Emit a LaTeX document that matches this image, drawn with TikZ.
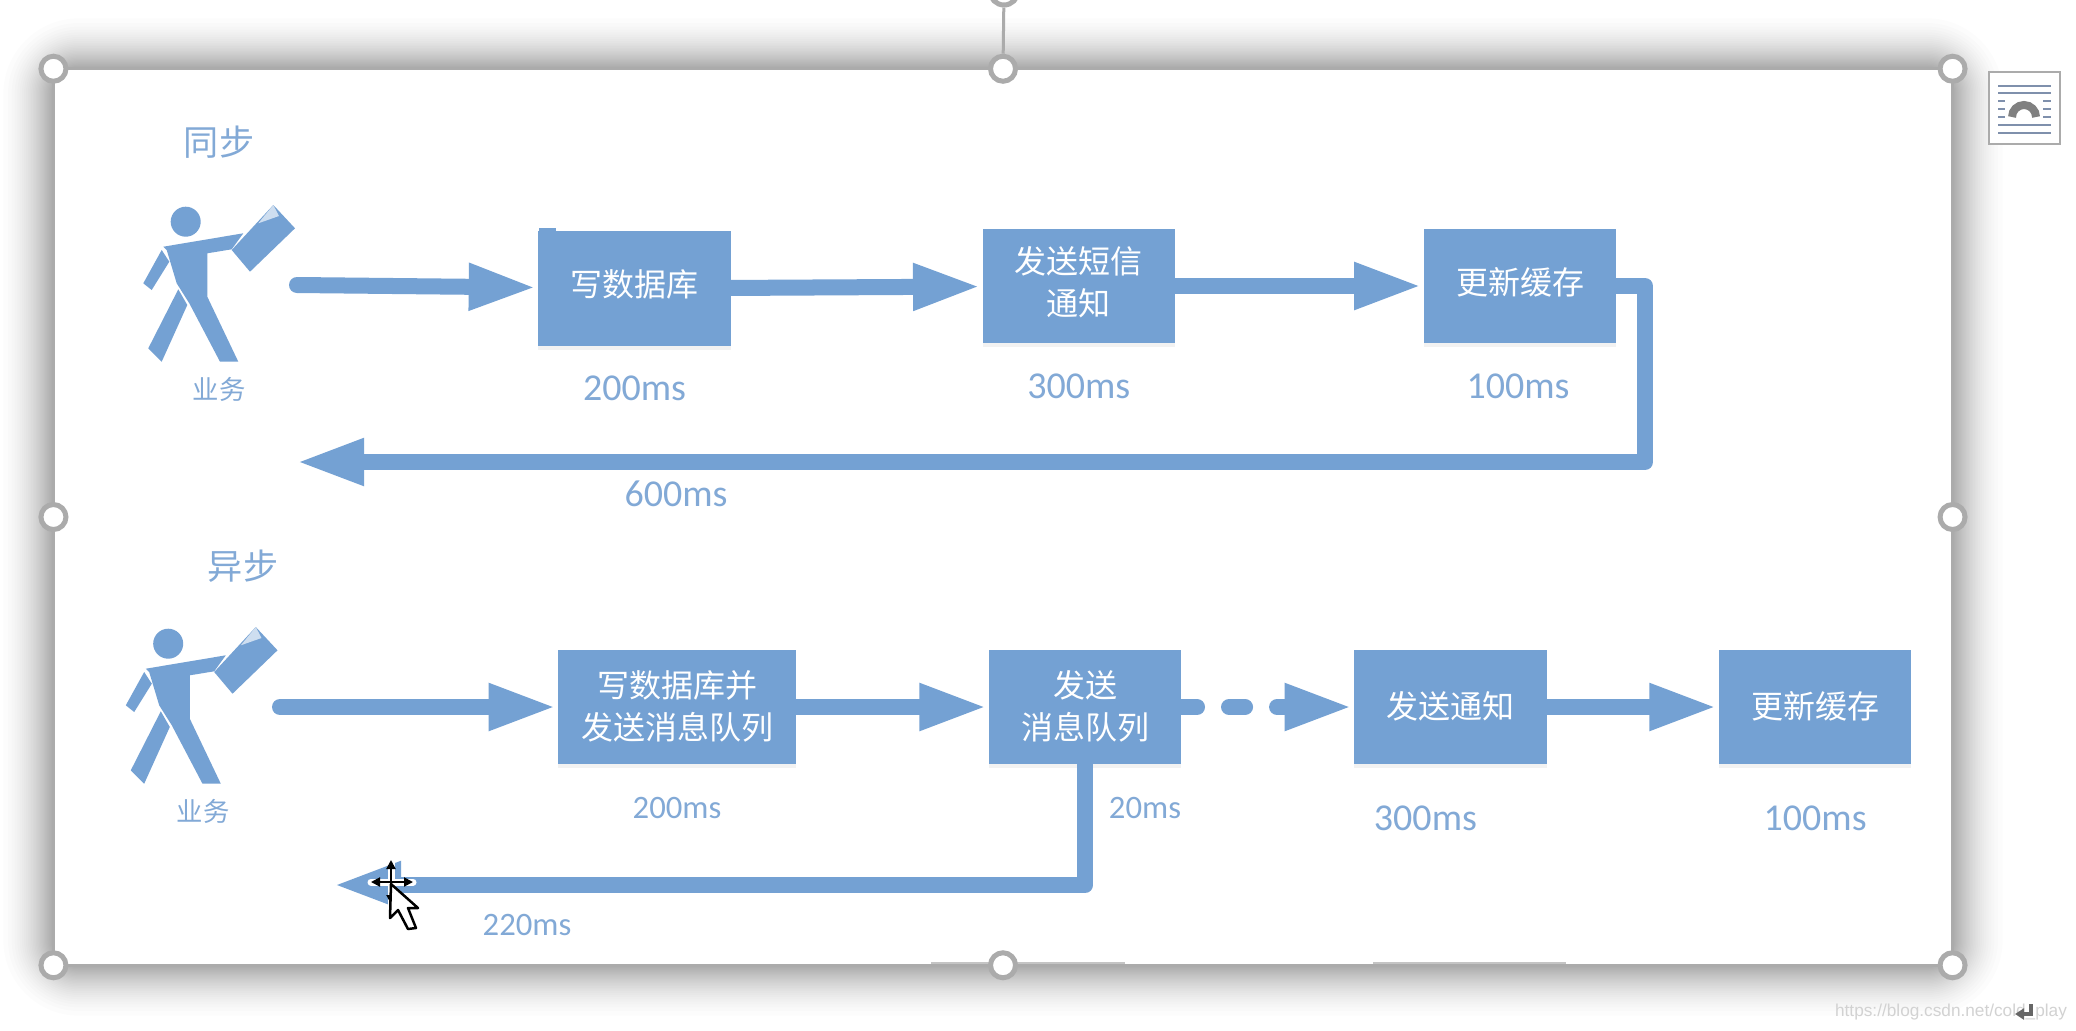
\documentclass[tikz,border=0pt]{standalone}
\usepackage{fontspec}
\usepackage{tikz}
\usetikzlibrary{arrows.meta,positioning,shadows}
\setmainfont{Carlito}
\newfontfamily\cjk{Noto Sans CJK SC}
\newfontfamily\wmfont{Liberation Sans}
\definecolor{flowblue}{HTML}{74A1D3}
\definecolor{labelblue}{HTML}{82A9D6}
\definecolor{framegray}{HTML}{ABABAB}
\definecolor{iconblue}{HTML}{7F90AC}

\begin{document}
\begin{tikzpicture}[x=.01cm,y=-.01cm,node distance=4.44cm,
    frame/.style={draw=framegray,fill=white,line width=.03cm,minimum width=18.98cm,minimum height=8.96cm,inner sep=0,outer sep=0},
    handle/.style={circle,draw=framegray,fill=white,line width=.05cm,minimum size=.25cm,inner sep=0},
    box/.style={fill=flowblue,text=white,align=center,inner sep=0,minimum width=1.92cm,minimum height=1.14cm,text depth=3pt,
      font=\cjk\fontsize{9.1}{12}\selectfont,drop shadow={opacity=.1,shadow xshift=0cm,shadow yshift=-.04cm}},
    lowbox/.style={box,text depth=1pt},
    flow/.style={line width=.16cm,color=flowblue,line cap=round,line join=round,shorten >=.01cm,-{Triangle[length=.68cm,width=.43cm]}},
    flowdash/.style={dash pattern=on .16cm off .32cm,dash phase=.01cm},
    title/.style={text=labelblue,font=\cjk\fontsize{10}{12}\selectfont},
    who/.style={text=labelblue,font=\cjk\fontsize{7.5}{9}\selectfont},
    time/.style={text=labelblue,font=\fontsize{10.8}{12}\selectfont,node distance=1cm},
    smalltime/.style={text=labelblue,font=\fontsize{9.3}{11}\selectfont,node distance=1.01cm},
    worker/.pic={
      \fill[flowblue] (55.7,31.7) circle[radius=.15cm];
      \fill[flowblue] (33.3,56.7) -- (113.3,43.3) -- (101.7,59.3) -- (77.3,63.3) -- (77.3,106.7) -- (108.3,171.7)
        -- (90,171.7) -- (59.3,113.3) -- (46.7,93.3) -- (36.7,60) -- cycle;
      \fill[flowblue] (31.7,60) -- (13.3,93.3) -- (21.7,100) -- (39.3,71.7) -- cycle;
      \fill[flowblue] (48.3,99.3) -- (18.3,158.3) -- (31.7,171.7) -- (57.3,115) -- cycle;
      \fill[flowblue] (143.3,15) -- (165,38.3) -- (120,81.7) -- (101.7,60) -- cycle;
      \fill[flowblue!35!white] (128.3,33.3) -- (143.3,15) -- (149,26) -- cycle;
    }]

  \clip (0,0) rectangle (2076,1030);
  \fill[white] (0,0) rectangle (2076,1030);

  % selection frame with its shadow
  \foreach \j [evaluate=\j as \r using {62*(1-sqrt(\j/30))}] in {1,...,29}
    \fill[black,opacity=.0135,rounded corners=(\r+25)*.01cm] (54-\r,69-\r) rectangle (1952+\r,965+\r);
  \node[frame] (frame) at (1003,517) {};
  \draw[framegray!70,line width=.025cm] (931,963) -- (1125,963) (1373,963) -- (1566,963);

  % sync row
  \node[title] (syncT) at (219,142) {同步};
  \pic at (130,190) {worker};
  \node[who] (syncW) at (219,389) {业务};
  \coordinate (s1) at (297,285);
  \fill[flowblue] (539,228) rectangle (556,233);
  \node[box] (A) at (634.5,288.5) {写数据库};
  \node[box] (B) [right of=A,yshift=.025cm] {发送短信\\通知};
  \node[box] (C) [right of=B,node distance=4.41cm] {更新缓存};
  \node[time] (tA) [below of=A] {200ms};
  \node[time] (tB) [below of=B] {300ms};
  \node[time] (tC) [below of=C,xshift=-.02cm] {100ms};
  \coordinate (t1) at (1645,462);
  \coordinate (r1) at (295,462);
  \node[time] (tSync) at (676,494) {600ms};

  % async row
  \node[title] (asyncT) at (243,566) {异步};
  \pic at (112.5,612) {worker};
  \node[who] (asyncW) at (203,811) {业务};
  \coordinate (s2) at (280,707);
  \node[lowbox,minimum width=2.37cm] (D) at (677,707) {写数据库并\\发送消息队列};
  \node[lowbox] (E) [right of=D,node distance=4.08cm] {发送\\消息队列};
  \node[lowbox] (F) [right of=E,node distance=3.65cm] {发送通知};
  \node[lowbox] (G) [right of=F,node distance=3.645cm] {更新缓存};
  \node[smalltime] (tD) [below of=D] {200ms};
  \node[smalltime] (tE) at (1145,808) {20ms};
  \node[time,node distance=1.11cm] (tF) [below of=F,xshift=-.25cm] {300ms};
  \node[time,node distance=1.11cm] (tG) [below of=G] {100ms};
  \coordinate (r2) at (332,885);
  \node[smalltime] (tAsync) at (527,925) {220ms};

  \path [flow]
        (s1) edge (A)
        (A)  edge (B)
        (B)  edge (C)
        (s2) edge (D)
        (D)  edge (E)
        (E)  edge [flowdash] (F)
        (F)  edge (G);
  \draw [flow] (C) -| (t1) -- (r1);
  \draw [flow] (E) |- (r2);

  % handles
  \node[handle,minimum size=.28cm] (rot) at (1004,-9) {};
  \foreach \a/\n in {north west/nw,north/n,north east/ne,west/w,east/e,south west/sw,south/s,south east/se}
    \node[handle] (h\n) at (frame.\a) {};
  \draw[framegray,line width=.03cm] (rot) -- (hn);

  % layout icon
  \draw[framegray,fill=white,line width=.025cm] (1989,72) rectangle (2060,144);
  \foreach \y in {86,93,125,133}
    \draw[iconblue,line width=.02cm] (1998,\y) -- (2051,\y);
  \foreach \y in {101,109,117}
    \draw[iconblue,line width=.02cm] (1998,\y) -- (2005,\y) (2043,\y) -- (2051,\y);
  \draw[gray,line width=.08cm] (2012,117) arc[start angle=180,end angle=0,radius=.12cm];

  % cursor
  \draw[white,line width=.07cm,line cap=round] (371,882) -- (413,882) (391,860) -- (391,904);
  \draw[black,line width=.02cm,{Triangle[length=.09cm,width=.09cm]}-{Triangle[length=.09cm,width=.09cm]}] (371,882) -- (413,882);
  \draw[black,line width=.02cm,{Triangle[length=.09cm,width=.09cm]}-{Triangle[length=.09cm,width=.09cm]}] (391,860) -- (391,904);
  \draw[black,fill=white,line width=.025cm,line join=round] (391,884) -- (390,918) -- (398,910) -- (408,929)
    -- (416,928) -- (408,908) -- (418,908) -- cycle;

  % watermark
  \node[text=gray!35,font=\wmfont\fontsize{4.9}{6}\selectfont,inner sep=0] (mark) at (1951,1012) {https://blog.csdn.net/cold\_play};
  \draw[gray!80!black,line width=.035cm,-{Triangle[length=.09cm,width=.11cm]}] (2031,1004) -- (2031,1014) -- (2015,1014);
\end{tikzpicture}
\end{document}
